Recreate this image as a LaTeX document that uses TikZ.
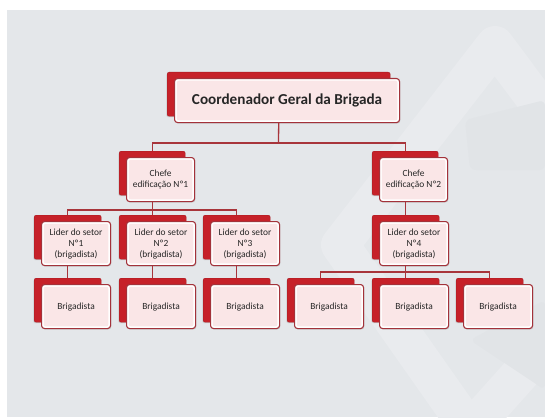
\documentclass[tikz,border=0pt]{standalone}
\usepackage{fontspec}
\setmainfont{Carlito}
\usetikzlibrary{shadows,calc}
\definecolor{bgc}{HTML}{E4E7EA}
\definecolor{wmlight}{HTML}{E9EBEE}
\definecolor{wmdark}{HTML}{E1E4E7}
\definecolor{redback}{HTML}{C62129}
\definecolor{frame}{HTML}{A3323A}
\definecolor{pinkfill}{HTML}{FAE6E7}
\definecolor{linec}{HTML}{A8353B}
\definecolor{txt}{HTML}{262626}
\newcommand\obox[6]{%
  \node[backbox, minimum width=#4pt, minimum height=#5pt] (#1b) at (#2,#3) {};
  \node[frontbox, minimum width=#4pt+2pt, minimum height=#5pt] (#1) at (#2+7,#3+6) {#6};
}
\begin{document}
\begin{tikzpicture}[x=1pt,y=-1pt,
  backbox/.style={rectangle, rounded corners=2pt, fill=redback, draw=redback!85!black,
    line width=0.4pt, inner sep=0pt, anchor=north west,
    drop shadow={shadow xshift=-0.8pt,shadow yshift=-1pt,opacity=0.25}},
  frontbox/.style={rectangle, rounded corners=3pt, fill=white, draw=frame,
    line width=1.1pt, inner sep=0pt, anchor=north west, align=center,
    font=\fontsize{9.4}{11}\selectfont, text=txt,
    path picture={\fill[pinkfill, rounded corners=2pt]
      ([shift={(2.2pt,-2.2pt)}]path picture bounding box.north west) rectangle
      ([shift={(-2.2pt,2.2pt)}]path picture bounding box.south east);},
    drop shadow={shadow xshift=0.8pt,shadow yshift=-1pt,opacity=0.25}},
  conn/.style={draw=linec, line width=1.3pt}]
\useasboundingbox (0,0) rectangle (545,417);
\fill[white] (0,0) rectangle (545,417);
\fill[bgc] (7,10) rectangle (545,417);
\begin{scope}
  \clip (7,10) rectangle (545,417);
  \draw[wmlight, line width=38pt, line join=round]
    (495,45) -- (340,245) -- (470,430) -- (640,240) -- cycle;
  \fill[wmdark, rounded corners=6pt] (465,120) -- (545,100) -- (545,170) -- (470,170) -- cycle;
  \fill[wmdark, rounded corners=6pt] (470,340) -- (545,300) -- (545,390) -- cycle;
\end{scope}
% boxes
\obox{top}{167}{72}{223}{44}{\fontsize{15.2}{17}\selectfont\bfseries Coordenador Geral da Brigada}
\obox{ca}{119}{151}{66}{44}{Chefe\\edificação Nº1}
\obox{cb}{372}{151}{66}{44}{Chefe\\edificação Nº2}
\obox{la}{34}{215}{67}{44}{Lider do setor\\Nº1\\(brigadista)}
\obox{lb}{119}{215}{67}{44}{Lider do setor\\Nº2\\(brigadista)}
\obox{lc}{203}{215}{67}{44}{Lider do setor\\Nº3\\(brigadista)}
\obox{ld}{372}{215}{67}{44}{Lider do setor\\Nº4\\(brigadista)}
\obox{ba}{34}{278}{67}{44}{Brigadista}
\obox{bb}{119}{278}{67}{44}{Brigadista}
\obox{bc}{203}{278}{67}{44}{Brigadista}
\obox{bd}{287}{278}{67}{44}{Brigadista}
\obox{be}{372}{278}{67}{44}{Brigadista}
\obox{bf}{456}{278}{67}{44}{Brigadista}
% junctions
\coordinate (j1) at (278.5,143);
\coordinate (j2) at (152,210);
\coordinate (j3) at (405.5,272);
% connectors
\draw[conn] (topb.center |- top.south) -- (j1);
\draw[conn] (cab.north) |- (j1) -| (cbb.north);
\draw[conn] (cab.center |- ca.south) -- (cab.center |- j2);
\draw[conn] (lab.north) |- (j2) -| (lcb.north);
\draw[conn] (lbb.north) -- (lbb.center |- j2);
\draw[conn] (cbb.center |- cb.south) -- (cbb.center |- ldb.north);
\draw[conn] (lab.center |- la.south) -- (lab.center |- bab.north);
\draw[conn] (lbb.center |- lb.south) -- (lbb.center |- bbb.north);
\draw[conn] (lcb.center |- lc.south) -- (lcb.center |- bcb.north);
\draw[conn] (ldb.center |- ld.south) -- (ldb.center |- j3);
\draw[conn] (bdb.north) |- (j3) -| (bfb.north);
\draw[conn] (beb.north) -- (beb.center |- j3);
\end{tikzpicture}
\end{document}
